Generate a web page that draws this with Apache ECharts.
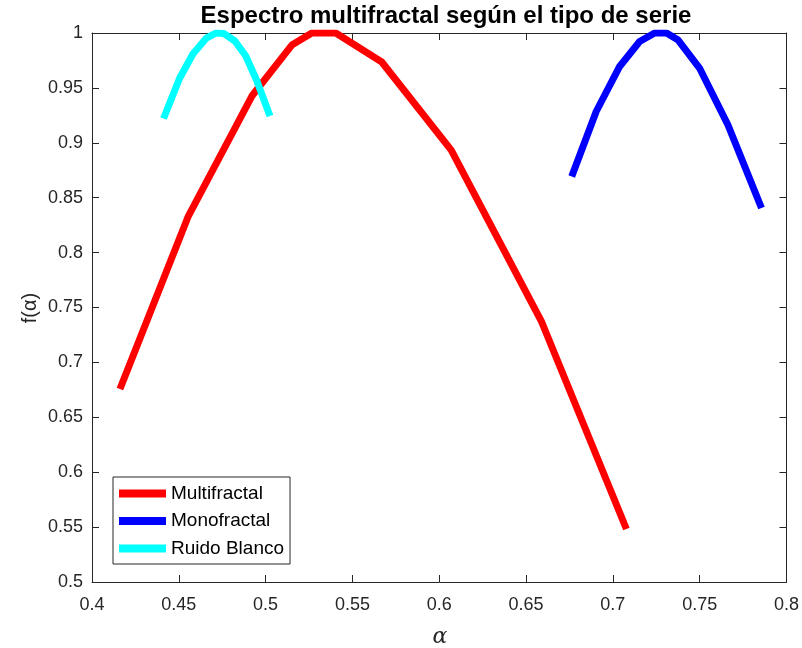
<!DOCTYPE html>
<html>
<head>
<meta charset="utf-8">
<script src="https://cdn.jsdelivr.net/npm/echarts@6/dist/echarts.min.js"></script>
<style>html,body{margin:0;padding:0;background:#fff;}#c{width:802px;height:648px;}</style>
</head>
<body>
<div id="c"></div>
<script>
const titleText = 'Espectro multifractal según el tipo de serie';
const seriesNames = ['Multifractal', 'Monofractal', 'Ruido Blanco'];
const multiAlpha = [0.4161, 0.4555, 0.4921, 0.5151, 0.5266, 0.5404, 0.5669, 0.6069, 0.6590, 0.7078];
const multiF     = [0.6758, 0.8333, 0.9426, 0.9890, 1.0000, 1.0000, 0.9736, 0.8934, 0.7368, 0.5483];
const monoAlpha  = [0.6763, 0.6904, 0.7039, 0.7154, 0.7241, 0.7309, 0.7376, 0.7499, 0.7663, 0.7856];
const monoF      = [0.8693, 0.9285, 0.9695, 0.9923, 1.0000, 1.0000, 0.9936, 0.9681, 0.9162, 0.8406];
const noiseAlpha = [0.4412, 0.4504, 0.4581, 0.4659, 0.4714, 0.4760, 0.4823, 0.4886, 0.4950, 0.5025];
const noiseF     = [0.9221, 0.9586, 0.9809, 0.9954, 1.0000, 0.9995, 0.9927, 0.9790, 0.9563, 0.9244];
const colors = ['#ff0000', '#0000ff', '#00ffff'];
const xMin = 0.4, xMax = 0.8, xStep = 0.05;
const yMin = 0.5, yMax = 1.0, yStep = 0.05;

const pairs = (a, b) => a.map((v, i) => [v, b[i]]);
const font = '"Liberation Sans", Arial, Helvetica, sans-serif';
const axisCol = '#262626';
const fmt = v => String(Math.round(v * 100) / 100);

const chart = echarts.init(document.getElementById('c'), null, {renderer: 'canvas'});
const mkX = (pos, labels) => ({
  type: 'value', position: pos, min: xMin, max: xMax, interval: xStep,
  axisLine: {show: true, onZero: false, lineStyle: {color: axisCol, width: 1}},
  axisTick: {show: true, inside: true, length: 7, lineStyle: {color: axisCol}},
  axisLabel: {show: labels, color: axisCol, fontFamily: font, fontSize: 18, margin: 14, formatter: fmt},
  splitLine: {show: false}
});
const mkY = (pos, labels) => ({
  type: 'value', position: pos, min: yMin, max: yMax, interval: yStep,
  axisLine: {show: true, onZero: false, lineStyle: {color: axisCol, width: 1}},
  axisTick: {show: true, inside: true, length: 7, lineStyle: {color: axisCol}},
  axisLabel: {show: labels, color: axisCol, fontFamily: font, fontSize: 18, margin: 9, formatter: fmt},
  splitLine: {show: false}
});
const mkS = (name, a, b, c) => ({
  name: name, type: 'line', data: pairs(a, b), showSymbol: false, symbol: 'none',
  lineStyle: {color: c, width: 7, cap: 'butt', join: 'round'}, itemStyle: {color: c},
  animation: false
});

chart.setOption({
  animation: false,
  title: {text: titleText, left: 441, textAlign: 'center', top: -1,
    textStyle: {fontFamily: font, fontSize: 24, fontWeight: 'bold', color: '#000'}},
  grid: {left: 92, right: 15, top: 33, bottom: 66, containLabel: false},
  xAxis: [mkX('bottom', true), mkX('top', false)],
  yAxis: [mkY('left', true), mkY('right', false)],
  legend: {
    left: 113, top: 477, orient: 'vertical', icon: 'rect', itemWidth: 47, itemHeight: 8,
    itemGap: 8.5, borderColor: axisCol, borderWidth: 1, backgroundColor: '#fff',
    padding: [7, 6, 6, 6],
    textStyle: {fontFamily: font, fontSize: 19, color: '#000', lineHeight: 18},
    data: seriesNames
  },
  graphic: [
    {type: 'text', rotation: Math.PI / 2, style: {text: 'f(α)', font: '20px ' + font, fill: axisCol, textAlign: 'center', textVerticalAlign: 'middle'}, x: 30, y: 308},
    {type: 'text', style: {text: 'α', font: 'italic 22px "DejaVu Serif", "Liberation Serif", serif', fill: axisCol, textAlign: 'center', textVerticalAlign: 'middle'}, x: 440, y: 637}
  ],
  series: [
    mkS(seriesNames[0], multiAlpha, multiF, colors[0]),
    mkS(seriesNames[1], monoAlpha, monoF, colors[1]),
    mkS(seriesNames[2], noiseAlpha, noiseF, colors[2])
  ]
});
</script>
</body>
</html>
